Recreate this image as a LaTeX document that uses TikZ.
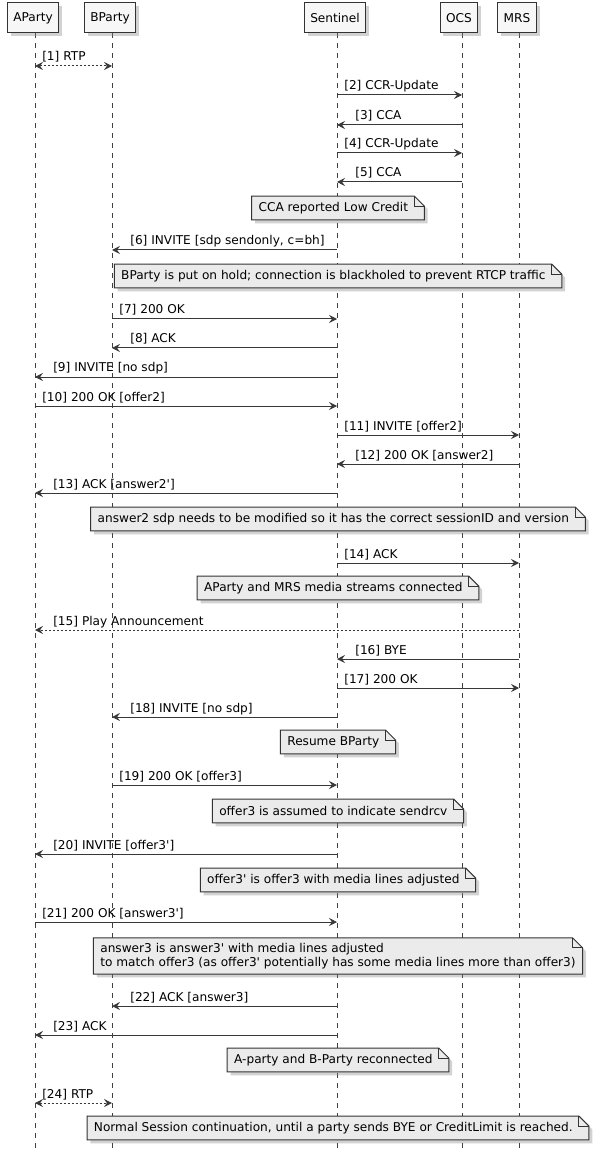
\documentclass[tikz,border=0pt]{standalone}
\usepackage{fontspec}
\setmainfont{DejaVu Sans}
\usetikzlibrary{arrows.meta,shadows}
\newcommand{\q}{\textquotesingle}
\begin{document}
\begin{tikzpicture}[x=0.75pt,y=-0.75pt,
  txt/.style={font=\fontsize{9.1pt}{11pt}\selectfont,text=black},
  part/.style={txt,draw=black!80,fill=black!3,line width=0.75pt,minimum height=22.5pt,inner xsep=4.5pt,drop shadow={shadow xshift=2.5pt,shadow yshift=-2.5pt,opacity=0.35}},
  life/.style={draw=black!75,line width=0.6pt,dash pattern=on 3.75pt off 3.75pt},
  arr/.style={draw=black!78,line width=0.75pt,-{Stealth[length=6pt,width=6pt,inset=2.2pt]}},
  darr/.style={arr,{Stealth[length=6pt,width=6pt,inset=2.2pt]}-{Stealth[length=6pt,width=6pt,inset=2.2pt]},dash pattern=on 1.5pt off 1.5pt},
  dsh/.style={arr,dash pattern=on 1.5pt off 1.5pt},
  notebox/.style={txt,align=left,inner xsep=5pt,inner ysep=3.5pt,minimum height=17.5pt},
  notefill/.style={draw=black!80,fill=black!8,line width=0.75pt,drop shadow={shadow xshift=2.5pt,shadow yshift=-2.5pt,opacity=0.35}}
]
\useasboundingbox (0,0) rectangle (607,1151);
\fill[white] (0,0) rectangle (607,1151);
\foreach \n/\x in {A/35,B/112,S/337,O/462,M/519}{
  \coordinate (\n top) at (\x,33);
  \coordinate (\n bot) at (\x,1151);
  \draw[life] (\n top) -- (\n bot);
}
\node[part] (pA) at (33,18) {AParty};
\node[part] (pB) at (110,18) {BParty};
\node[part] (pS) at (335,18) {Sentinel};
\node[part] (pO) at (459,18) {OCS};
\node[part] (pM) at (517,18) {MRS};
\newcommand{\mymsg}[6][arr]{%
  \coordinate (m#2s) at (#4,#3);
  \coordinate (m#2e) at (#5,#3);
  \draw[#1] (m#2s) -- (m#2e);
  \pgfmathsetmacro\lx{min(#4,#5)+((#5<#4)?18:7)}
  \node[txt,anchor=base west,inner sep=0pt] (l#2) at (\lx,#3-5) {#6};
}
\newcommand{\mynote}[3]{%
  \node[notebox] (#1) at (338,#2) {#3\hspace{7pt}};
  \path[notefill] (#1.north west) -- ([xshift=-7.5]#1.north east) -- ([yshift=-7.5]#1.north east) -- (#1.south east) -- (#1.south west) -- cycle;
  \draw[draw=black!80,line width=0.75pt] ([xshift=-7.5]#1.north east) -- ([xshift=-7.5,yshift=-7.5]#1.north east) -- ([yshift=-7.5]#1.north east);
  \node[notebox] at (#1) {#3\hspace{7pt}};
}
\mymsg[darr]{1}{66}{35}{112}{[1] RTP}
\mymsg{2}{95}{337}{462}{[2] CCR-Update}
\mymsg{3}{125}{462}{337}{[3] CCA}
\mymsg{4}{153}{337}{462}{[4] CCR-Update}
\mymsg{5}{182}{462}{337}{[5] CCA}
\mynote{n1}{208}{CCA reported Low Credit}
\mymsg{6}{250}{337}{112}{[6] INVITE [sdp sendonly, c=bh]}
\mynote{n2}{276}{BParty is put on hold; connection is blackholed to prevent RTCP traffic}
\mymsg{7}{319}{112}{337}{[7] 200 OK}
\mymsg{8}{348}{337}{112}{[8] ACK}
\mymsg{9}{377}{337}{35}{[9] INVITE [no sdp]}
\mymsg{10}{406}{35}{337}{[10] 200 OK [offer2]}
\mymsg{11}{435}{337}{519}{[11] INVITE [offer2]}
\mymsg{12}{464}{519}{337}{[12] 200 OK [answer2]}
\mymsg{13}{493}{337}{35}{[13] ACK [answer2\q]}
\mynote{n3}{519}{answer2 sdp needs to be modified so it has the correct sessionID and version}
\mymsg{14}{563}{337}{519}{[14] ACK}
\mynote{n4}{588}{AParty and MRS media streams connected}
\mymsg[dsh]{15}{630}{519}{35}{[15] Play Announcement}
\mymsg{16}{659}{519}{337}{[16] BYE}
\mymsg{17}{688}{337}{519}{[17] 200 OK}
\mymsg{18}{717}{337}{112}{[18] INVITE [no sdp]}
\mynote{n5}{742}{Resume BParty}
\mymsg{19}{785}{112}{337}{[19] 200 OK [offer3]}
\mynote{n6}{811}{offer3 is assumed to indicate sendrcv}
\mymsg{20}{854}{337}{35}{[20] INVITE [offer3\q]}
\mynote{n7}{880}{offer3\q{} is offer3 with media lines adjusted}
\mymsg{21}{922}{35}{337}{[21] 200 OK [answer3\q]}
\mynote{n8}{956}{answer3 is answer3\q{} with media lines adjusted\\to match offer3 (as offer3\q{} potentially has some media lines more than offer3)}
\mymsg{22}{1006}{337}{112}{[22] ACK [answer3]}
\mymsg{23}{1035}{337}{35}{[23] ACK}
\mynote{n9}{1060}{A-party and B-Party reconnected}
\mymsg[darr]{24}{1103}{35}{112}{[24] RTP}
\mynote{n10}{1128}{Normal Session continuation, until a party sends BYE or CreditLimit is reached.}
\end{tikzpicture}
\end{document}
